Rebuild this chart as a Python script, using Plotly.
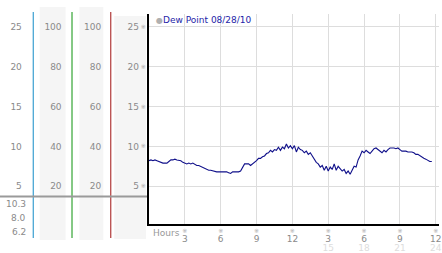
import plotly.graph_objects as go

# ---- data (10-minute readings) ----
dew_point = [
    8.2, 8.3, 8.2, 8.3, 8.2, 8.1,    # 0h
    8.0, 7.9, 7.9, 7.9, 8.1, 8.3,    # 1h
    8.3, 8.4, 8.3, 8.2, 8.2, 8.0,    # 2h
    7.9, 7.8, 7.9, 7.8, 7.9, 7.7,    # 3h
    7.6, 7.6, 7.5, 7.3, 7.2, 7.1,    # 4h
    7.0, 7.0, 6.9, 6.9, 6.8, 6.8,    # 5h
    6.8, 6.8, 6.8, 6.8, 6.7, 6.6,    # 6h
    6.8, 6.8, 6.8, 6.8, 6.9, 7.3,    # 7h
    7.8, 7.8, 7.8, 7.6, 7.8, 7.9,    # 8h
    8.2, 8.5, 8.5, 8.7, 8.8, 9.1,    # 9h
    9.2, 9.5, 9.3, 9.6, 9.5, 9.9,    # 10h
    9.5, 9.9, 9.7, 10.3, 9.8, 10.1,  # 11h
    9.7, 10.1, 9.3, 9.9, 9.6, 9.5,   # 12h
    9.2, 9.4, 9.0, 9.2, 8.8, 8.3,    # 13h
    8.0, 7.8, 7.4, 7.6, 7.0, 7.5,    # 14h
    6.9, 7.4, 7.1, 7.8, 7.0, 7.5,    # 15h
    7.2, 6.9, 7.1, 6.6, 6.9, 6.5,    # 16h
    7.0, 7.5, 7.4, 8.3, 8.8, 9.4,    # 17h
    9.2, 9.5, 9.3, 9.1, 9.4, 9.7,    # 18h
    9.8, 9.6, 9.4, 9.2, 9.5, 9.3,    # 19h
    9.6, 9.8, 9.8, 9.8, 9.7, 9.8,    # 20h
    9.6, 9.4, 9.4, 9.4, 9.3, 9.3,    # 21h
    9.3, 9.2, 9.0, 9.0, 8.8, 8.7,    # 22h
    8.5, 8.4, 8.2, 8.1, 8.1,         # 23h
]
hours = [i / 6 for i in range(len(dew_point))]
series_name = "Dew Point 08/28/10"
x_tickvals = [3, 6, 9, 12, 15, 18, 21, 24]
x_ticktext = ["3", "6", "9", "12", "3", "6", "9", "12"]
x_tick2vals = [15, 18, 21, 24]
x_tick2text = ["15", "18", "21", "24"]
y_tickvals = [5, 10, 15, 20, 25]
pct_tickvals = [20, 40, 60, 80, 100]
summary_values = ["10.3", "8.0", "6.2"]

W, H = 442, 253
T, B = 14, 29
PH = H - T - B
Y_RANGE = [0.25, 26.63]
X_RANGE = [0, 24.27]
FONT = "DejaVu Sans"
GRAY = "#8a8a8a"


def px(x):
    return x / W


def py(y):
    return (H - B - y) / PH


fig = go.Figure()
fig.add_trace(go.Scatter(x=hours, y=dew_point, mode="lines",
                         line=dict(color="#10108a", width=1.1),
                         showlegend=False, hoverinfo="skip"))
# empty traces so that the extra axes get drawn
for xa, ya in [("x2", "y"), ("x3", "y"), ("x", "y2"), ("x", "y3"), ("x", "y4"), ("x", "y5")]:
    fig.add_trace(go.Scatter(x=[], y=[], xaxis=xa, yaxis=ya, mode="lines",
                             showlegend=False, hoverinfo="skip"))

axis_common = dict(showgrid=False, zeroline=False, ticks="", showline=False,
                   tickfont=dict(family=FONT, size=9, color=GRAY))

fig.update_layout(
    width=W, height=H,
    margin=dict(l=0, r=0, t=T, b=B),
    paper_bgcolor="white", plot_bgcolor="white",
    showlegend=False,
    xaxis=dict(domain=[150 / W, 1], range=X_RANGE,
               tickvals=x_tickvals, ticktext=["※"] * len(x_tickvals),
               tickfont=dict(family=FONT, size=6, color="#aaaaaa"),
               showgrid=True, gridcolor="#dddddd", gridwidth=1,
               showline=True, linecolor="black", linewidth=2,
               zeroline=False, ticks="", ticklabelstandoff=0,
               ticklabeloverflow="allow"),
    xaxis2=dict(overlaying="x", anchor="y", side="bottom",
                range=X_RANGE, tickvals=x_tickvals,
                ticktext=x_ticktext, ticklabelstandoff=8,
                ticklabeloverflow="allow", **axis_common),
    xaxis3=dict(overlaying="x", anchor="y", side="bottom",
                range=X_RANGE, tickvals=x_tick2vals,
                ticktext=x_tick2text, ticklabelstandoff=17,
                ticklabeloverflow="allow",
                showgrid=False, zeroline=False, ticks="", showline=False,
                tickfont=dict(family=FONT, size=9, color="#dddddd")),
    yaxis=dict(domain=[0, 1], range=Y_RANGE, tickvals=y_tickvals,
               ticktext=["※"] * len(y_tickvals),
               tickfont=dict(family=FONT, size=6, color="#aaaaaa"),
               showgrid=True, gridcolor="#dddddd", gridwidth=1,
               showline=True, linecolor="black", linewidth=2,
               zeroline=False, ticks="", ticklabelstandoff=0),
    yaxis2=dict(overlaying="y", anchor="free", position=px(22), side="left",
                range=Y_RANGE, tickvals=y_tickvals, **axis_common),
    yaxis3=dict(overlaying="y", anchor="free", position=px(62), side="left",
                range=[v * 4 for v in Y_RANGE], tickvals=pct_tickvals, **axis_common),
    yaxis4=dict(overlaying="y", anchor="free", position=px(102), side="left",
                range=[v * 4 for v in Y_RANGE], tickvals=pct_tickvals, **axis_common),
    yaxis5=dict(overlaying="y", anchor="free", position=px(140), side="left",
                range=Y_RANGE, tickvals=y_tickvals, **axis_common),
)

shapes = []
for x0, x1, y0, y1 in [(40, 66, 7, 240), (80, 104, 7, 240), (115, 147, 16, 239)]:
    shapes.append(dict(type="rect", xref="paper", yref="paper",
                       x0=px(x0), x1=px(x1), y0=py(y1), y1=py(y0),
                       fillcolor="#f5f5f5", line=dict(width=0), layer="below"))
for x, col in [(33.5, "#3a9fd0"), (72.5, "#34a534"), (111.5, "#b03a3a")]:
    shapes.append(dict(type="line", xref="paper", yref="paper",
                       x0=px(x), x1=px(x), y0=py(238), y1=py(12),
                       line=dict(color=col, width=1.2)))
shapes.append(dict(type="line", xref="paper", yref="paper",
                   x0=0, x1=px(148), y0=py(196.5), y1=py(196.5),
                   line=dict(color="#9a9a9a", width=2)))
fig.update_layout(shapes=shapes)

ann = []
for val, yy in zip(summary_values, [204, 218, 232]):
    ann.append(dict(xref="paper", yref="paper", x=px(28), y=py(yy),
                    xanchor="right", yanchor="middle", showarrow=False,
                    text=val, font=dict(family=FONT, size=9, color=GRAY)))
ann.append(dict(xref="paper", yref="paper", x=px(152), y=py(233),
                xanchor="left", yanchor="middle", showarrow=False,
                text="Hours", font=dict(family=FONT, size=9, color="#999999")))
ann.append(dict(xref="paper", yref="paper", x=px(155), y=py(20),
                xanchor="left", yanchor="middle", showarrow=False,
                text="<span style='color:#b0b0b0;font-size:8px'>●</span>" + series_name,
                font=dict(family=FONT, size=9, color="#2424a8")))
fig.update_layout(annotations=ann)

fig.write_html("out.html")
